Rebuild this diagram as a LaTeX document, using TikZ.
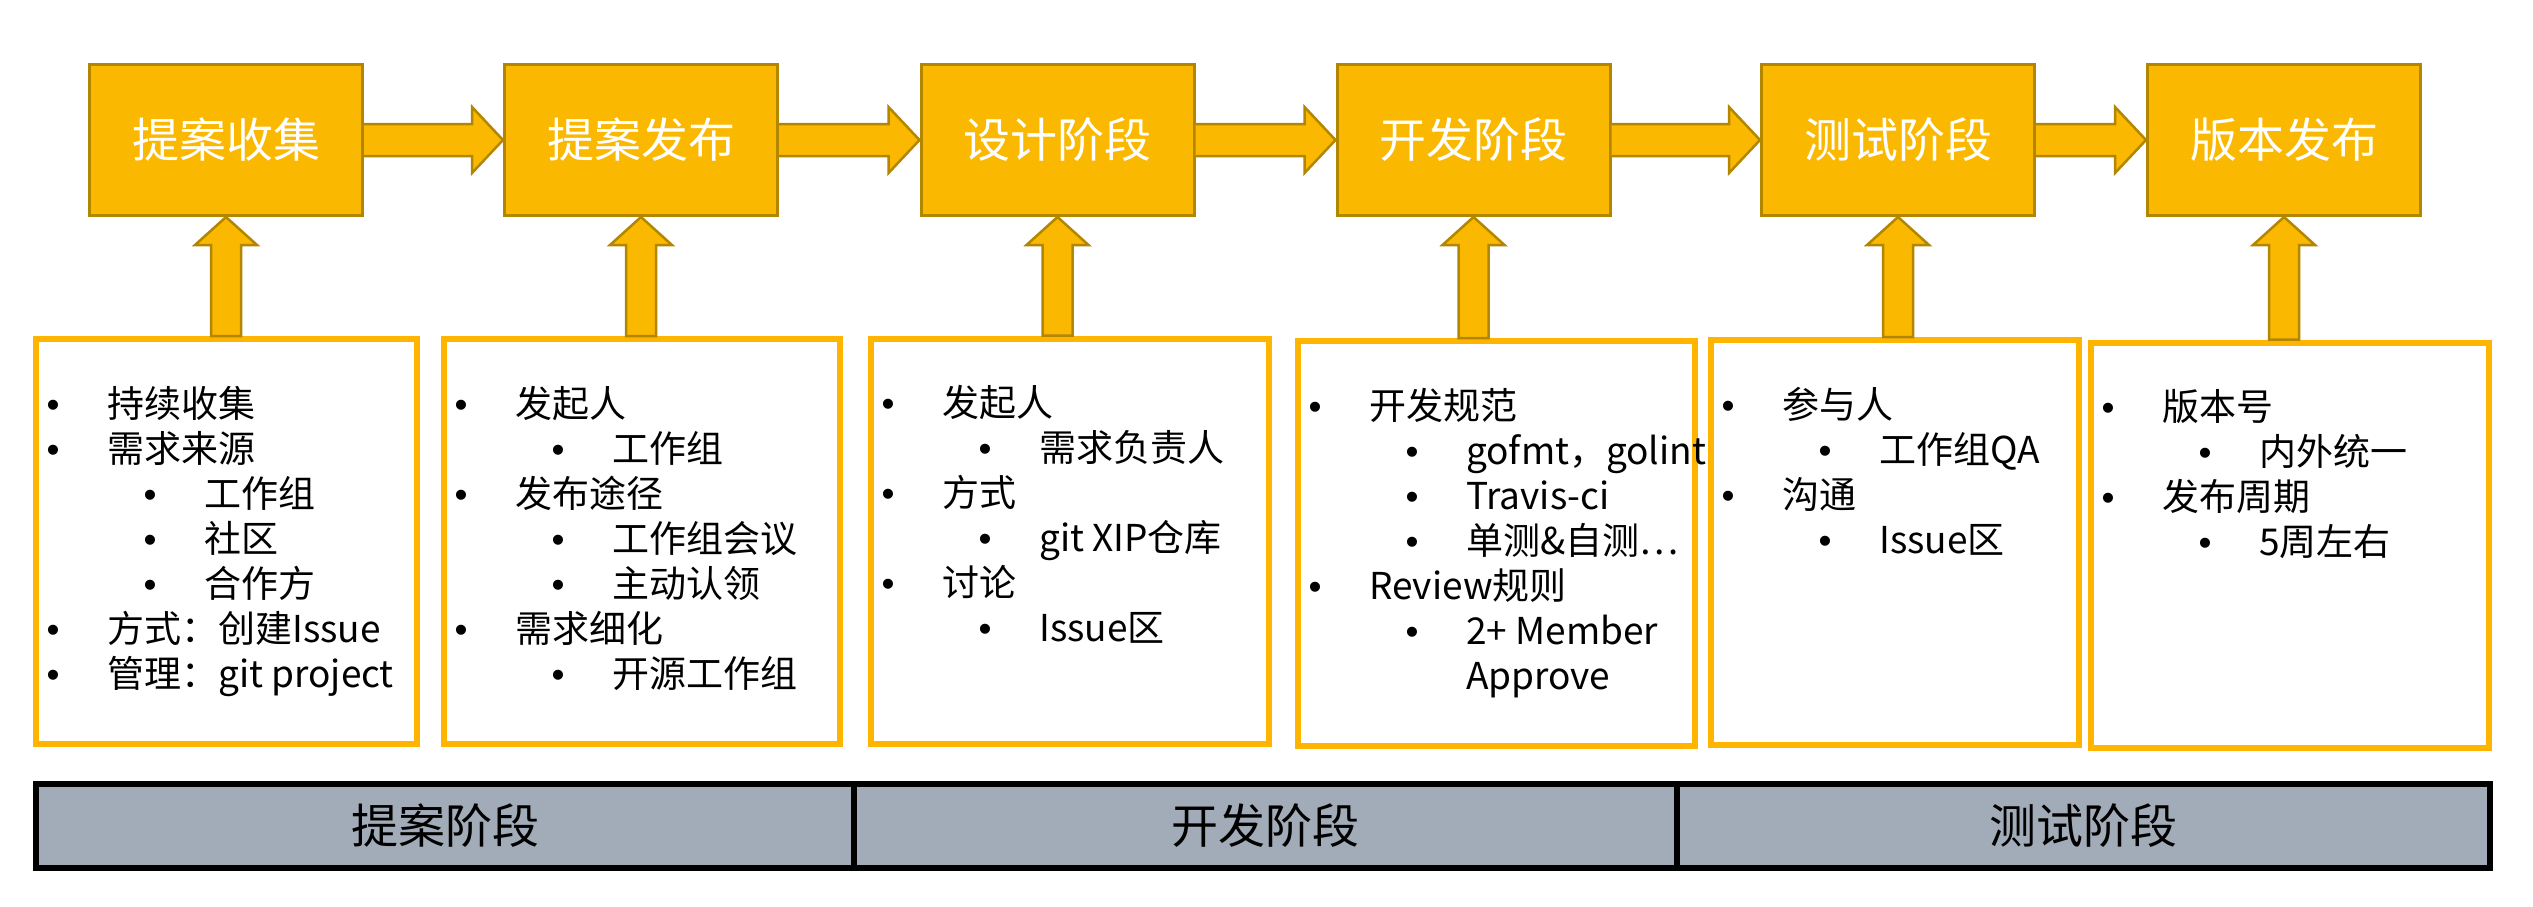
\documentclass[tikz,border=0pt]{standalone}
\usepackage{fontspec}
\setmainfont{Noto Sans CJK SC}
\newfontfamily\dotfont{Liberation Sans}
\usetikzlibrary{calc,positioning}
\definecolor{stagefill}{HTML}{FBB800}
\definecolor{stageline}{HTML}{B38600}
\definecolor{noteline}{HTML}{FFB400}
\definecolor{phasefill}{HTML}{A2ACB8}
\tikzset{
  stage/.style={draw=stageline,fill=stagefill,line width=3pt,minimum width=273pt,minimum height=151pt,inner sep=0pt,text=white,font=\fontsize{47}{47}\selectfont},
  note/.style={draw=noteline,line width=6pt,minimum height=405pt,inner sep=0pt},
  phase/.style={draw=black,fill=phasefill,line width=6pt,minimum height=84pt,inner sep=0pt,font=\fontsize{47}{47}\selectfont},
  item/.style={anchor=base west,inner sep=0pt,font=\fontsize{37}{37}\selectfont},
  fat/.style={draw=stageline,fill=stagefill,line width=2.5pt,line join=miter}
}
% bullet lines inside a note box: level/text
\newcommand\noteitems[2]{%
  \foreach \l/\t [count=\n] in {#2} {
    \ifnum\l=3 \def\mk{}\def\lx{117}\else\def\mk{\makebox[0pt]{\dotfont •}}\pgfmathsetmacro\lx{20+97*(\l-1)}\fi
    \node[item] (#1i\n) at ($(#1.north west)+(\lx,81+45*\n-45)$) {\mk\hspace{54pt}\t};
  }}

\begin{document}
\begin{tikzpicture}[x=1pt,y=-1pt]
\useasboundingbox (0,0) rectangle (2533,906);
% stages
\foreach \t/\x [count=\n] in {提案收集/226,提案发布/641,设计阶段/1057.5,开发阶段/1473.5,测试阶段/1898,版本发布/2284}
  \node[stage] (S\n) at (\x,140) {\t};
\foreach \a [count=\b from 2] in {1,...,5}
  \draw[fat] ($(S\a.east)+(0,-16)$) -- ($(S\b.west)+(-31,-16)$) -- ($(S\b.west)+(-31,-33)$) -- (S\b.west)
    -- ($(S\b.west)+(-31,33)$) -- ($(S\b.west)+(-31,16)$) -- ($(S\a.east)+(0,16)$);

% notes under the stages
\node[note,minimum width=381pt] (B1) at (226.5,541.5) {};
\node[note,minimum width=396pt] (B2) at (642,541.5) {};
\node[note,minimum width=398pt] (B3) at (1070,541) {};
\node[note,minimum width=397pt] (B4) at (1496.5,543.5) {};
\node[note,minimum width=368pt] (B5) at (1895,542.5) {};
\node[note,minimum width=398pt] (B6) at (2290,545) {};
\noteitems{B1}{1/持续收集,1/需求来源,2/工作组,2/社区,2/合作方,1/方式：创建Issue,1/管理：git project}
\noteitems{B2}{1/发起人,2/工作组,1/发布途径,2/工作组会议,2/主动认领,1/需求细化,2/开源工作组}
\noteitems{B3}{1/发起人,2/需求负责人,1/方式,2/git XIP仓库,1/讨论,2/Issue区}
\noteitems{B4}{1/开发规范,2/gofmt，golint,2/Travis-ci,2/单测\&自测…,1/Review规则,2/2+ Member,3/Approve}
\noteitems{B5}{1/参与人,2/工作组QA,1/沟通,2/Issue区}
\noteitems{B6}{1/版本号,2/内外统一,1/发布周期,2/5周左右}
\foreach \n in {1,...,6}
  \draw[fat] ($(S\n.south|-B\n.north)+(-15,0)$) -- ($(S\n.south)+(-15,28)$) -- ($(S\n.south)+(-31,28)$) -- (S\n.south)
    -- ($(S\n.south)+(31,28)$) -- ($(S\n.south)+(15,28)$) -- ($(S\n.south|-B\n.north)+(15,0)$) -- cycle;

% phases
\node[phase,minimum width=818pt] (P1) at (445,826) {提案阶段};
\node[phase,minimum width=823pt] (P2) at (1265.5,826) {开发阶段};
\node[phase,minimum width=813pt] (P3) at (2083.5,826) {测试阶段};
\end{tikzpicture}
\end{document}
